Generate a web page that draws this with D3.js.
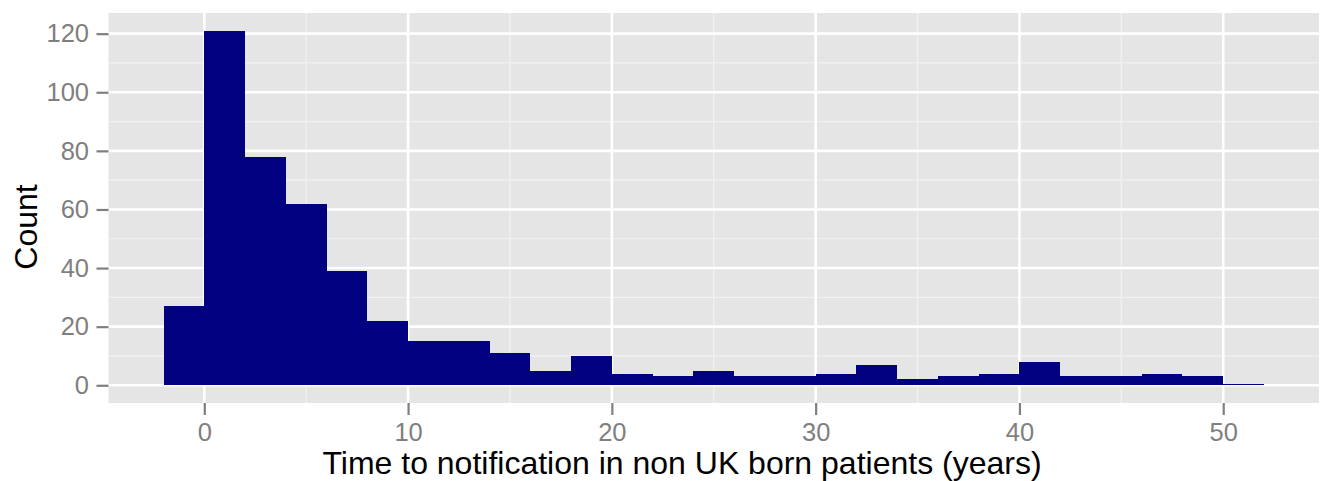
<!DOCTYPE html>
<html>
<head>
<meta charset="utf-8">
<script src="https://cdn.jsdelivr.net/npm/d3@7"></script>
<style>
  html, body { margin: 0; padding: 0; background: #fff; }
  svg { display: block; }
  text { font-family: "Liberation Sans", Arial, Helvetica, sans-serif; }
</style>
</head>
<body>
<svg id="chart" width="1324" height="481"></svg>
<script>
// Histogram bins (start of each 2-year bin) and counts
const binStarts = [-2, 0, 2, 4, 6, 8, 10, 12, 14, 16, 18, 20, 22, 24, 26, 28, 30, 32, 34, 36, 38, 40, 42, 44, 46, 48, 50];
const counts    = [27, 121, 78, 62, 39, 22, 15, 15, 11, 5, 10, 4, 3, 5, 3, 3, 4, 7, 2, 3, 4, 8, 3, 3, 4, 3, 0];
const binWidth = 2;

const xTicks = [0, 10, 20, 30, 40, 50];
const xMinor = [5, 15, 25, 35, 45];
const yTicks = [0, 20, 40, 60, 80, 100, 120];
const yMinor = [10, 30, 50, 70, 90, 110];

const xLabel = "Time to notification in non UK born patients (years)";
const yLabel = "Count";

const svg = d3.select("#chart");
const panel = { left: 108.5, right: 1319, top: 13, bottom: 403 };

const xMin = d3.min(binStarts), xMax = d3.max(binStarts) + binWidth;
const xPad = (xMax - xMin) * 0.05;
const yMax = d3.max(counts);
const yPad = yMax * 0.05;

const x = d3.scaleLinear().domain([xMin - xPad, xMax + xPad]).range([panel.left, panel.right]);
const y = d3.scaleLinear().domain([-yPad, yMax + yPad]).range([panel.bottom, panel.top]);

// panel background
svg.append("rect")
  .attr("x", panel.left).attr("y", panel.top)
  .attr("width", panel.right - panel.left).attr("height", panel.bottom - panel.top)
  .attr("fill", "#E5E5E5");

// minor grid
const g = svg.append("g");
g.selectAll(".xminor").data(xMinor).enter().append("line")
  .attr("x1", d => x(d)).attr("x2", d => x(d))
  .attr("y1", panel.top).attr("y2", panel.bottom)
  .attr("stroke", "#F2F2F2").attr("stroke-width", 1.2);
g.selectAll(".yminor").data(yMinor).enter().append("line")
  .attr("y1", d => y(d)).attr("y2", d => y(d))
  .attr("x1", panel.left).attr("x2", panel.right)
  .attr("stroke", "#F2F2F2").attr("stroke-width", 1.2);
// major grid
g.selectAll(".xmajor").data(xTicks).enter().append("line")
  .attr("x1", d => x(d)).attr("x2", d => x(d))
  .attr("y1", panel.top).attr("y2", panel.bottom)
  .attr("stroke", "#FFFFFF").attr("stroke-width", 2.6);
g.selectAll(".ymajor").data(yTicks).enter().append("line")
  .attr("y1", d => y(d)).attr("y2", d => y(d))
  .attr("x1", panel.left).attr("x2", panel.right)
  .attr("stroke", "#FFFFFF").attr("stroke-width", 2.6);

// bars
svg.append("g").attr("shape-rendering", "crispEdges")
  .selectAll("rect").data(binStarts.map((s, i) => ({ s, c: counts[i] })))
  .enter().append("rect")
  .attr("x", d => x(d.s))
  .attr("width", d => x(d.s + binWidth) - x(d.s))
  .attr("y", d => Math.min(y(d.c), y(0) - 1))
  .attr("height", d => Math.max(y(0) - y(d.c), 1))
  .attr("fill", "#000080");

// axes
const tickColor = "#7F7F7F";
const xAxis = svg.append("g")
  .attr("transform", `translate(0,${panel.bottom})`)
  .call(d3.axisBottom(x).tickValues(xTicks).tickSize(12).tickPadding(8).tickFormat(d3.format("d")));
const yAxis = svg.append("g")
  .attr("transform", `translate(${panel.left},0)`)
  .call(d3.axisLeft(y).tickValues(yTicks).tickSize(12).tickPadding(7.5).tickFormat(d3.format("d")));
[xAxis, yAxis].forEach(a => {
  a.select(".domain").remove();
  a.selectAll(".tick line").attr("stroke", tickColor).attr("stroke-width", 2.2);
  a.selectAll(".tick text").attr("fill", tickColor).style("font-size", "25.5px");
});

// axis titles
svg.append("text")
  .attr("x", 682).attr("y", 474)
  .attr("text-anchor", "middle")
  .style("font-size", "32px").attr("fill", "#000")
  .text(xLabel);
svg.append("text")
  .attr("transform", "translate(37,227) rotate(-90)")
  .attr("text-anchor", "middle")
  .style("font-size", "32px").attr("fill", "#000")
  .text(yLabel);
</script>
</body>
</html>
